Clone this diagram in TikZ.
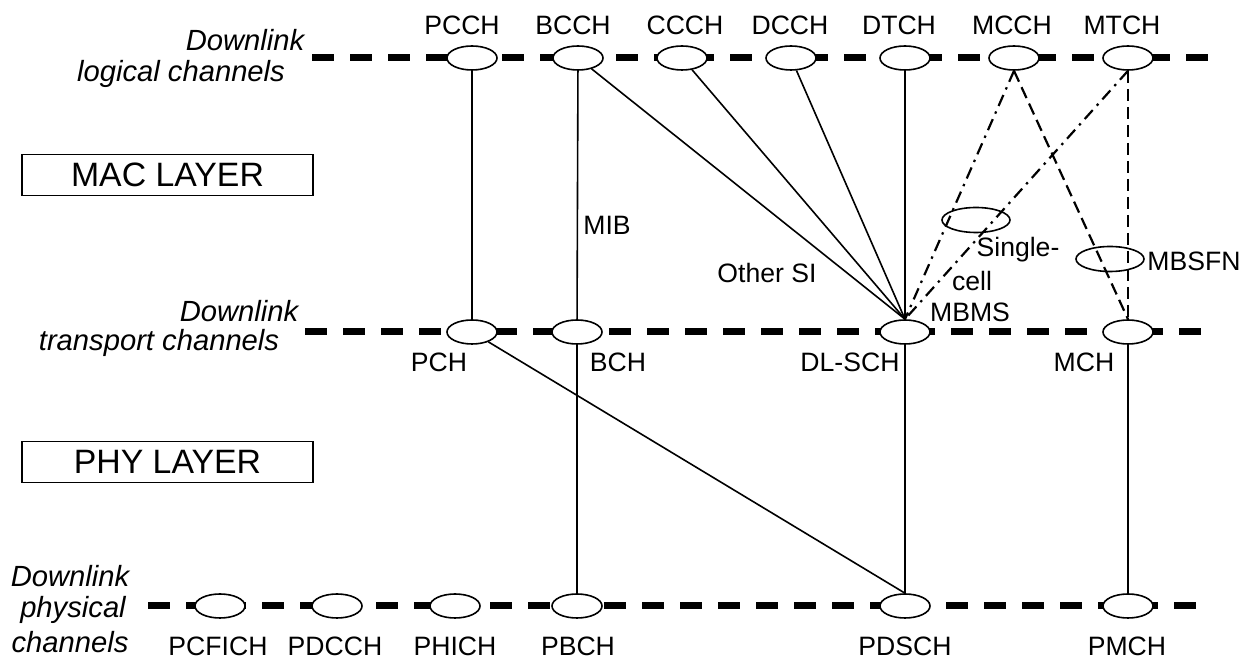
\documentclass[tikz,border=0pt]{standalone}
\usepackage{fontspec}
\setmainfont{Liberation Sans}
\usetikzlibrary{shapes.geometric}
\begin{document}
\begin{tikzpicture}[x=0.5pt,y=-0.5pt,
  chan/.style={ellipse,draw,fill=white,line width=0.8pt,minimum width=25pt,minimum height=12pt,inner sep=0pt},
  marker/.style={ellipse,draw,line width=0.8pt,minimum width=34pt,minimum height=12.5pt,inner sep=0pt},
  lbl/.style={font=\fontsize{13.3}{16}\selectfont,inner sep=0pt},
  side/.style={font=\fontsize{14.6}{17}\selectfont\itshape,inner sep=0pt},
  layerbox/.style={draw,line width=0.9pt,minimum width=145.5pt,minimum height=20.5pt,inner sep=0pt,font=\fontsize{16.9}{20}\selectfont},
  bus/.style={line width=3.5pt,dash pattern=on 11pt off 8pt},
  link/.style={line width=0.8pt},
  dashdotlink/.style={line width=1.1pt,dash pattern=on 6pt off 3pt on 1.2pt off 3pt},
  dashedlink/.style={line width=1.1pt,dash pattern=on 6pt off 3pt},
]
\useasboundingbox (0,0) rectangle (1250,662);

% bus lines (drawn first, behind the channel ellipses)
\coordinate (b1s) at (312,58);  \coordinate (b1e) at (1215,58);
\coordinate (b2s) at (305,332); \coordinate (b2e) at (1215,332);
\coordinate (b3s) at (148,606); \coordinate (b3e) at (1205,606);
\draw[bus] (b1s) -- (b1e);
\draw[bus] (b2s) -- (b2e);
\draw[bus] (b3s) -- (b3e);

% logical channels
\node[chan] (pcch) at (472,58) {};
\node[chan] (bcch) at (578,58) {};
\node[chan] (ccch) at (682,58) {};
\node[chan] (dcch) at (791,58) {};
\node[chan] (dtch) at (905,58) {};
\node[chan] (mcch) at (1014,58) {};
\node[chan] (mtch) at (1128,58) {};
\node[lbl] (pcchL) at (462,25) {PCCH};
\node[lbl] (bcchL) at (573,25) {BCCH};
\node[lbl] (ccchL) at (685,25) {CCCH};
\node[lbl] (dcchL) at (790,25) {DCCH};
\node[lbl] (dtchL) at (899,25) {DTCH};
\node[lbl] (mcchL) at (1012,25) {MCCH};
\node[lbl] (mtchL) at (1122,25) {MTCH};

% transport channels
\node[chan] (pch) at (472,332) {};
\node[chan] (bch) at (577,332) {};
\node[chan] (dlsch) at (905,332) {};
\node[chan] (mch) at (1128,332) {};
\node[lbl] (pchL) at (439,362) {PCH};
\node[lbl] (bchL) at (618,362) {BCH};
\node[lbl] (dlschL) at (850,362) {DL-SCH};
\node[lbl] (mchL) at (1084,362) {MCH};

% physical channels
\node[chan] (pcfich) at (220,606) {};
\node[chan] (pdcch) at (337,606) {};
\node[chan] (phich) at (455,606) {};
\node[chan] (pbch) at (577,606) {};
\node[chan] (pdsch) at (905,606) {};
\node[chan] (pmch) at (1128,606) {};
\node[lbl] (pcfichL) at (218,646) {PCFICH};
\node[lbl] (pdcchL) at (335,646) {PDCCH};
\node[lbl] (phichL) at (455,646) {PHICH};
\node[lbl] (pbchL) at (578,646) {PBCH};
\node[lbl] (pdschL) at (905,646) {PDSCH};
\node[lbl] (pmchL) at (1127,646) {PMCH};

% MBMS markers
\node[marker] (sc) at (976,220) {};
\node[marker] (mbsfn) at (1110,259) {};

% solid links
\draw[link] (pcch) -- (pch);
\draw[link] (bcch) -- (bch);
\draw[link] (bch) -- (pbch);
\draw[link] (bcch) -- (dlsch.north);
\draw[link] (ccch) -- (dlsch.north);
\draw[link] (dcch) -- (dlsch.north);
\draw[link] (dtch) -- (dlsch.north);
\draw[link] (pch) -- (pdsch.north);
\draw[link] (dlsch) -- (pdsch);
\draw[link] (mch) -- (pmch);

% MBMS links
\draw[dashdotlink] (mcch.south) -- (dlsch.north);
\draw[dashdotlink] (mtch.south) -- (dlsch.north);
\draw[dashedlink] (mcch.south) -- (mch.north);
\draw[dashedlink,line width=1.4pt] (mtch.south) -- (mch.north);

% labels on links
\node[lbl] (mib) at (607,225) {MIB};
\node[lbl] (othersi) at (767,273) {Other SI};
\node[lbl] (single) at (1018,250) {Single-};
\node[lbl] (cell) at (972,281) {cell};
\node[lbl] (mbms) at (970,312) {MBMS};
\node[lbl,anchor=west] (mbsfnL) at (1147,261) {MBSFN};

% layer boxes
\node[layerbox] (mac) at (167.5,175) {MAC LAYER};
\node[layerbox] (phy) at (167.5,462) {PHY LAYER};

% side labels
\node[side] (dl1a) at (245,40) {Downlink};
\node[side] (dl1b) at (181,74) {logical channels};
\node[side] (dl2a) at (239,311) {Downlink};
\node[side] (dl2b) at (159,343) {transport channels};
\node[side] (dl3a) at (70,576) {Downlink};
\node[side] (dl3b) at (73,610) {physical};
\node[side] (dl3c) at (70,642) {channels};
\end{tikzpicture}
\end{document}
